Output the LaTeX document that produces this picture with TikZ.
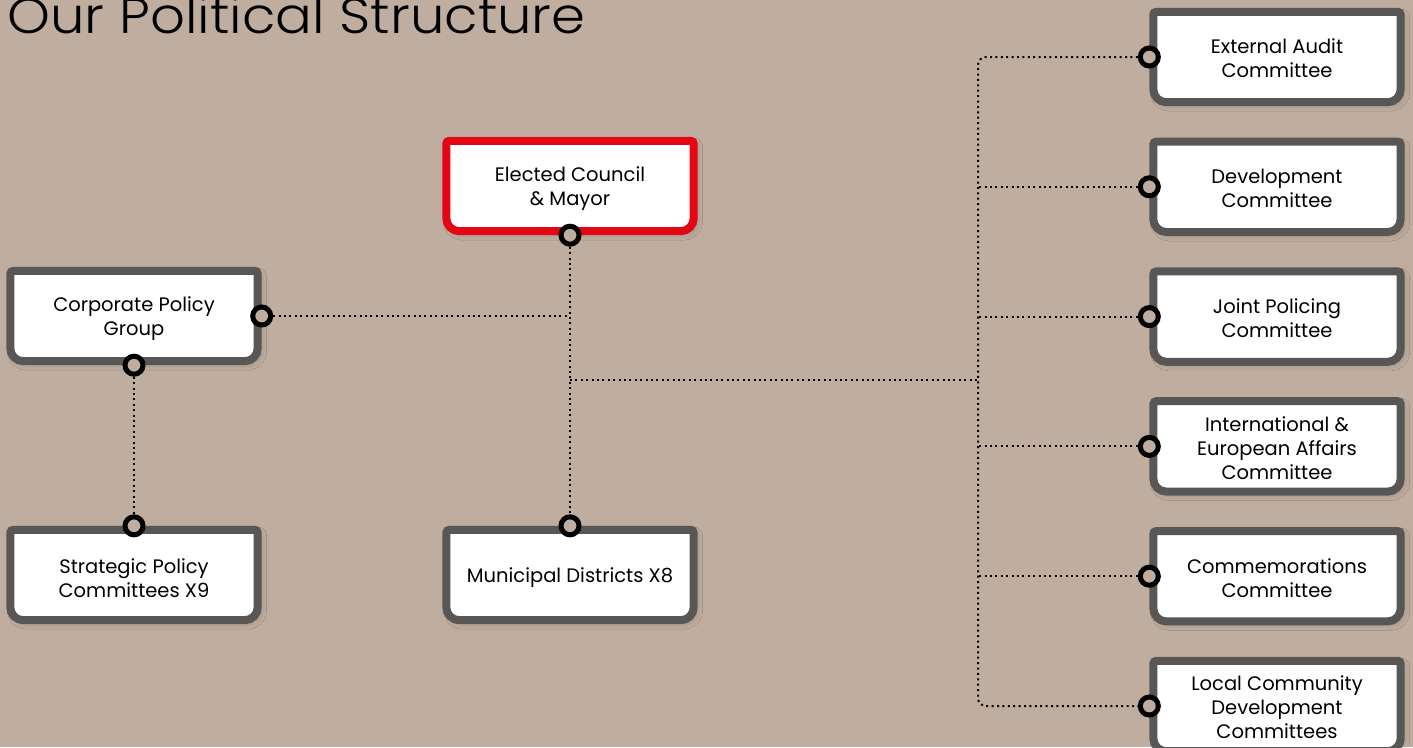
\documentclass[tikz,border=0pt]{standalone}
\usepackage{fontspec}
\setmainfont{Poppins}
\newfontfamily\titlefont{Poppins Light}[FakeStretch=1.09]
\usetikzlibrary{positioning, backgrounds, shadows.blur}
\definecolor{sand}{RGB}{191,174,159}
\definecolor{rim}{RGB}{89,87,85}
\definecolor{alert}{RGB}{227,6,19}
\tikzset{%
  node distance=39.4pt, % gap between the committee boxes
  unit/.style={minimum width=247pt, minimum height=90pt, inner sep=0pt}, % one body
  caption/.style={align=center, yshift=-3pt,
    font=\fontsize{19.5}{24}\selectfont}, % text of each body
  port/.style={circle, draw=black, line width=5pt, fill=sand,
    minimum size=18pt, inner sep=0pt}, % the round connector ends
  link/.style={draw, line width=2pt, dash pattern=on 2pt off 3.4pt},
  bodyrim/.style={draw=rim, line width=8pt, fill=white, y=1pt,
    blur shadow={shadow xshift=3pt, shadow yshift=-3pt,
      shadow blur radius=6pt, shadow opacity=20}}
}
% frame of a box: small radius on top, larger radius at the bottom
\newcommand{\bodyframe}[2][rim]{%
  \path[bodyrim, draw=#1] (#2.north)
    -- ([xshift=-3pt]#2.north east) arc[start angle=90, end angle=0, radius=3pt]
    -- ([yshift=13pt]#2.south east) arc[start angle=0, end angle=-90, radius=13pt]
    -- ([xshift=13pt]#2.south west) arc[start angle=270, end angle=180, radius=13pt]
    -- ([yshift=-3pt]#2.north west) arc[start angle=180, end angle=90, radius=3pt]
    -- cycle;}

\begin{document}
\begin{tikzpicture}[x=1pt, y=-1pt]
    \useasboundingbox (0,0) rectangle (1413,747);

    \node[anchor=base west, font=\titlefont\fontsize{50}{56}\selectfont] (title) at (4,33) {Our Political Structure};

    \node[unit, label={[caption]center:Elected Council\\\& Mayor}] (council) at (570,186) {};
    \node[unit, label={[caption]center:Corporate Policy\\Group}] (corp) at (134,316) {};
    \node[unit, label={[caption]center:Strategic Policy\\Committees X9}] (spc) at (134,575) {};
    \node[unit, label={[caption]center:Municipal Districts X8}] (mdx) at (570,575) {};

    \node[unit, label={[caption, yshift=1.5pt]center:External Audit\\Committee}] (audit) at (1277,57) {};
    \node[unit, below=of audit, label={[caption, yshift=1.5pt]center:Development\\Committee}] (devc) {};
    \node[unit, below=of devc, label={[caption, yshift=1.5pt]center:Joint Policing\\Committee}] (jpc) {};
    \node[unit, below=of jpc, label={[caption, yshift=1.5pt]center:International \&\\European Affairs\\Committee}] (intl) {};
    \node[unit, below=of intl, label={[caption, yshift=1.5pt]center:Commemorations\\Committee}] (comm) {};
    \node[unit, below=of comm, label={[caption, yshift=1.5pt]center:Local Community\\Development\\Committees}] (lcdc) {};

    \begin{scope}[on background layer]
        \fill[sand] (0,0) rectangle (1413,747);
        \foreach \n in {corp,spc,mdx,audit,devc,jpc,intl,comm,lcdc} {\bodyframe{\n}}
        \bodyframe[alert]{council}
    \end{scope}

    \node[port] (council-s) at ([yshift=-4pt]council.south) {};
    \node[port] (mdx-n) at ([yshift=4pt]mdx.north) {};
    \node[port] (corp-e) at ([xshift=4pt]corp.east) {};
    \node[port] (corp-s) at ([yshift=-4pt]corp.south) {};
    \node[port] (spc-n) at ([yshift=4pt]spc.north) {};
    \foreach \n in {audit,devc,jpc,intl,comm,lcdc}
        \node[port] (\n-w) at ([xshift=-4pt]\n.west) {};

    \coordinate (trunk) at (978,380);
    \coordinate (hub) at (council-s |- trunk);
    \coordinate (tap) at (council-s |- corp-e);

    \draw[link] (council-s) -- (mdx-n);
    \draw[link] (corp-e) -- (tap);
    \draw[link] (corp-s) -- (spc-n);
    \draw[link] (hub) -- (trunk);
    \draw[link, rounded corners=8pt] (audit-w) -| (trunk) |- (lcdc-w);
    \foreach \n in {devc,jpc,intl,comm}
        \draw[link] (\n-w) -- (\n-w -| trunk);
\end{tikzpicture}
\end{document}
